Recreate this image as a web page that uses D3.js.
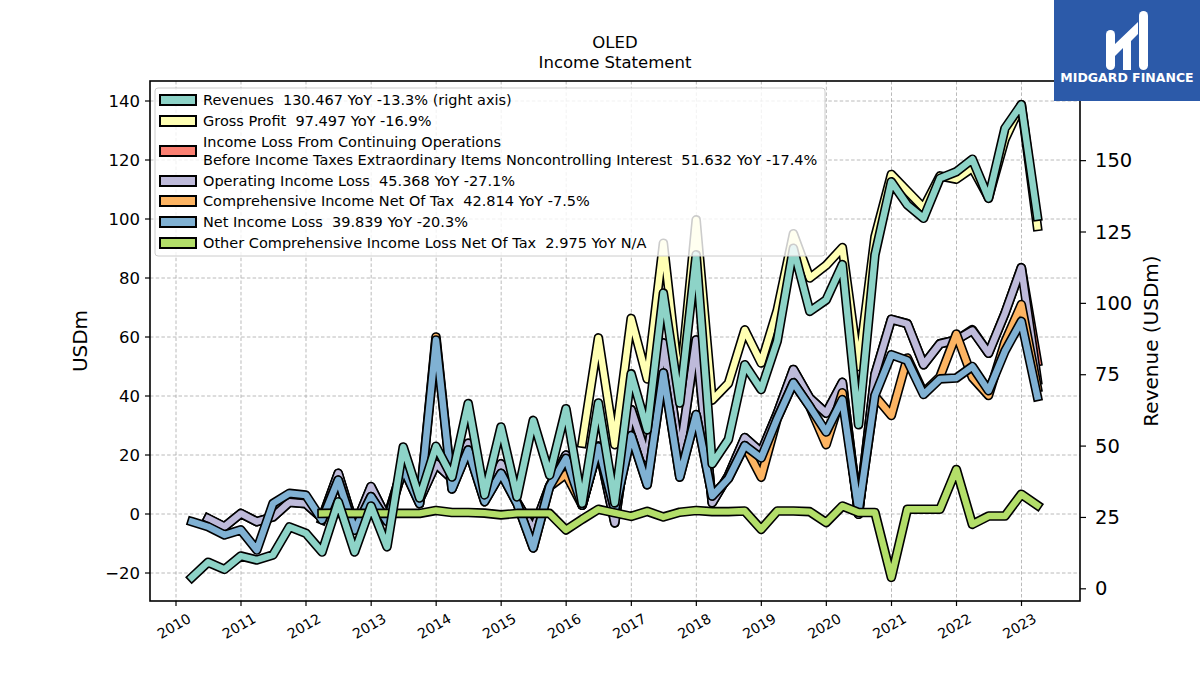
<!DOCTYPE html>
<html lang="en">
<head>
<meta charset="UTF-8">
<title>OLED Income Statement</title>
<style>
  body { margin: 0; background: #fff; }
  svg text { font-family: "DejaVu Sans", sans-serif; }
</style>
</head>
<body>
<script src="https://d3js.org/d3.v7.min.js"></script>
<div id="chart"></div>
<script>

// quarter ends
const periods = [
  "2010-03-31", "2010-06-30", "2010-09-30", "2010-12-31",
  "2011-03-31", "2011-06-30", "2011-09-30", "2011-12-31",
  "2012-03-31", "2012-06-30", "2012-09-30", "2012-12-31",
  "2013-03-31", "2013-06-30", "2013-09-30", "2013-12-31",
  "2014-03-31", "2014-06-30", "2014-09-30", "2014-12-31",
  "2015-03-31", "2015-06-30", "2015-09-30", "2015-12-31",
  "2016-03-31", "2016-06-30", "2016-09-30", "2016-12-31",
  "2017-03-31", "2017-06-30", "2017-09-30", "2017-12-31",
  "2018-03-31", "2018-06-30", "2018-09-30", "2018-12-31",
  "2019-03-31", "2019-06-30", "2019-09-30", "2019-12-31",
  "2020-03-31", "2020-06-30", "2020-09-30", "2020-12-31",
  "2021-03-31", "2021-06-30", "2021-09-30", "2021-12-31",
  "2022-03-31", "2022-06-30", "2022-09-30", "2022-12-31",
  "2023-03-31"
];

// right axis
const revenues = [4.0, 9.3, 6.8, 11.5, 10.1, 11.9, 21.7, 19.5, 12.9, 30.5, 12.9, 29.0, 14.7, 49.7, 31.8, 49.9,
  39.2, 64.9, 32.9, 56.7, 32.2, 59.0, 39.8, 63.1, 29.9, 65.1, 30.1, 75.3, 55.7, 103.6, 65.1, 117.0,
  43.8, 52.3, 78.5, 69.8, 86.7, 119.3, 97.2, 101.2, 113.6, 57.5, 117.0, 142.6, 134.5, 129.8, 143.8, 146.1,
  150.5, 136.8, 161.3, 169.6, 130.467];

// left axis
const grossProfit = [null, null, null, null, null, null, null, null, null, null, null, null, null, null, null, null,
  null, null, null, null, null, null, null, null, 24.0, 59.7, 23.5, 66.3, 45.8, 91.8, 42.6, 99.7,
  38.6, 44.3, 62.4, 51.2, 69.0, 95.0, 80.0, 84.3, 90.3, 50.0, 94.0, 115.1, 109.5, 103.8, 114.6, 113.5,
  117.3, 107.2, 127.0, 138.8, 97.497];

const incomeBeforeTax = [null, -1.5, -4.3, 0.2, -2.6, -1.0, 4.0, 3.5, -1.4, 13.8, -4.3, 9.3, -1.5, 16.5, 4.8, 17.0,
  12.0, 24.0, 5.5, 17.0, 4.0, -5.4, 9.5, 20.0, 3.0, 23.0, -3.0, 35.4, 19.0, 58.0, 20.0, 59.0,
  3.8, 13.0, 25.9, 21.0, 34.0, 49.0, 39.3, 34.2, 44.6, -0.1, 47.3, 66.0, 64.5, 50.6, 57.7, 59.0,
  62.5, 54.5, 68.0, 83.5, 51.632];

const operatingIncome = [null, -1.5, -4.3, 0.2, -2.6, -1.0, 4.0, 3.5, -1.4, 13.8, -4.3, 9.3, -1.5, 16.5, 4.8, 17.0,
  12.0, 24.0, 5.5, 17.0, 4.0, -5.4, 9.5, 20.0, 3.0, 23.0, -3.0, 35.4, 19.0, 58.0, 20.0, 59.0,
  3.8, 13.0, 25.9, 21.0, 34.0, 49.0, 39.3, 34.2, 44.6, -0.1, 47.3, 66.0, 64.5, 50.6, 57.7, 59.0,
  62.2, 54.5, 68.0, 83.5, 45.368];

const comprehensiveIncome = [null, null, null, null, null, null, null, null, -2.0, 11.5, -5.5, 5.9, -2.5, 15.5, 3.5, 60.0,
  8.5, 21.7, 4.2, 13.8, 3.6, -11.5, 9.3, 13.5, 3.0, 22.8, 1.5, 26.6, 9.9, 47.8, 12.5, 33.7,
  6.1, 12.0, 23.2, 12.5, 32.3, 44.5, 36.4, 23.5, 41.1, 1.0, 40.0, 33.4, 52.9, 41.1, 46.5, 61.0,
  46.3, 40.2, 58.3, 71.0, 42.814];

const netIncome = [-2.6, -4.3, -7.1, -5.4, -12.2, 3.6, 7.0, 6.4, -2.0, 11.5, -5.5, 5.9, -2.5, 15.5, 3.5, 59.0,
  8.5, 21.7, 4.2, 13.8, 3.6, -11.5, 9.3, 18.9, 3.0, 22.8, 1.5, 26.6, 9.9, 47.8, 12.5, 33.7,
  6.1, 12.0, 23.2, 19.0, 32.3, 44.5, 36.4, 27.8, 38.8, 1.0, 40.2, 54.0, 52.0, 40.5, 45.8, 46.1,
  50.0, 41.8, 55.2, 65.3, 39.839];

const otherComprehensive = [null, null, null, null, null, null, null, null, 0.2, 0.3, 0.2, 0.2, 0.2, 0.2, 0.2, 1.2,
  0.5, 0.5, 0.3, -0.3, 0.2, 0.2, 0.2, -5.4, -1.8, 1.6, 0.4, -0.8, 0.9, -1.0, 0.6, 1.2,
  0.8, 0.8, 1.0, -5.2, 1.0, 1.0, 0.8, -2.9, 2.7, 0.5, 0.5, -21.5, 1.6, 1.6, 1.6, 15.1,
  -3.5, -0.7, -0.7, 6.7, 2.975];

const yearTicks = ["2010", "2011", "2012", "2013", "2014", "2015", "2016", "2017", "2018", "2019", "2020", "2021", "2022", "2023"];
const leftTicks = [-20, 0, 20, 40, 60, 80, 100, 120, 140];
const rightTicks = [0, 25, 50, 75, 100, 125, 150];

const seriesNames = [
  "Revenues",
  "Gross Profit",
  "Income Loss From Continuing Operations\nBefore Income Taxes Extraordinary Items Noncontrolling Interest",
  "Operating Income Loss",
  "Comprehensive Income Net Of Tax",
  "Net Income Loss",
  "Other Comprehensive Income Loss Net Of Tax"
];
const seriesYoY = ["-13.3%", "-16.9%", "-17.4%", "-27.1%", "-7.5%", "-20.3%", "N/A"];
const seriesColors = ["#8dd3c7", "#ffffb3", "#fb8072", "#bebada", "#fdb462", "#80b1d3", "#b3de69"];

const width = 1200, height = 675;
const plot = { left: 150, right: 1080, top: 81, bottom: 601 };

const parse = d3.timeParse("%Y-%m-%d");
const dates = periods.map(parse);

const x = d3.scaleTime()
  .domain([new Date(2010, 0, 1), new Date(2023, 0, 1)])
  .range([176, 1021.5]);

const yL = d3.scaleLinear().domain([-29.49, 146.78]).range([plot.bottom, plot.top]);
const yR = d3.scaleLinear().domain([-4.27, 177.9]).range([plot.bottom, plot.top]);

const svg = d3.select("#chart").append("svg")
  .attr("width", width)
  .attr("height", height);

svg.append("rect").attr("width", width).attr("height", height).attr("fill", "#fff");

// grid
const grid = svg.append("g").attr("stroke", "#a8a8a8").attr("stroke-width", 0.8).attr("stroke-dasharray", "3.5,2.2");
grid.selectAll("line.v")
  .data(yearTicks)
  .join("line")
  .attr("x1", d => x(new Date(+d, 0, 1))).attr("x2", d => x(new Date(+d, 0, 1)))
  .attr("y1", plot.top).attr("y2", plot.bottom);
grid.selectAll("line.h")
  .data(leftTicks)
  .join("line")
  .attr("class", "h")
  .attr("x1", plot.left).attr("x2", plot.right)
  .attr("y1", d => yL(d)).attr("y2", d => yL(d));

// lines, black outline under the colour
function drawSeries(values, scale, color) {
  const line = d3.line()
    .defined(d => d != null)
    .x((d, i) => x(dates[i]))
    .y(d => scale(d));
  const g = svg.append("g")
    .attr("fill", "none")
    .attr("stroke-linejoin", "round")
    .attr("stroke-linecap", "square");
  g.append("path").attr("d", line(values)).attr("stroke", "#000").attr("stroke-width", 9.6);
  g.append("path").attr("d", line(values)).attr("stroke", color).attr("stroke-width", 6.4);
}

const leftSeries = [grossProfit, incomeBeforeTax, operatingIncome, comprehensiveIncome, netIncome, otherComprehensive];
leftSeries.forEach((s, i) => drawSeries(s, yL, seriesColors[i + 1]));
drawSeries(revenues, yR, seriesColors[0]);

// frame
svg.append("rect")
  .attr("x", plot.left).attr("y", plot.top)
  .attr("width", plot.right - plot.left).attr("height", plot.bottom - plot.top)
  .attr("fill", "none").attr("stroke", "#000").attr("stroke-width", 1.6);

// left axis
const axL = svg.append("g");
axL.selectAll("line").data(leftTicks).join("line")
  .attr("x1", plot.left - 5).attr("x2", plot.left)
  .attr("y1", d => yL(d)).attr("y2", d => yL(d))
  .attr("stroke", "#000").attr("stroke-width", 1.2);
axL.selectAll("text").data(leftTicks).join("text")
  .attr("x", plot.left - 10).attr("y", d => yL(d))
  .attr("text-anchor", "end").attr("dominant-baseline", "central")
  .attr("font-size", 16.5)
  .text(d => d < 0 ? "\u2212" + Math.abs(d) : d);

svg.append("text")
  .attr("transform", `translate(80,${(plot.top + plot.bottom) / 2}) rotate(-90)`)
  .attr("text-anchor", "middle").attr("dominant-baseline", "central")
  .attr("font-size", 20)
  .text("USDm");

// right axis
const axR = svg.append("g");
axR.selectAll("line").data(rightTicks).join("line")
  .attr("x1", plot.right).attr("x2", plot.right + 6)
  .attr("y1", d => yR(d)).attr("y2", d => yR(d))
  .attr("stroke", "#000").attr("stroke-width", 1.2);
axR.selectAll("text").data(rightTicks).join("text")
  .attr("x", plot.right + 15).attr("y", d => yR(d))
  .attr("dominant-baseline", "central")
  .attr("font-size", 19.5)
  .text(d => d);

svg.append("text")
  .attr("transform", `translate(1151,${(plot.top + plot.bottom) / 2}) rotate(-90)`)
  .attr("text-anchor", "middle").attr("dominant-baseline", "central")
  .attr("font-size", 20)
  .text("Revenue (USDm)");

// x axis
const axX = svg.append("g");
axX.selectAll("line").data(yearTicks).join("line")
  .attr("x1", d => x(new Date(+d, 0, 1))).attr("x2", d => x(new Date(+d, 0, 1)))
  .attr("y1", plot.bottom).attr("y2", plot.bottom + 5)
  .attr("stroke", "#000").attr("stroke-width", 1.2);
axX.selectAll("text").data(yearTicks).join("text")
  .attr("transform", d => `translate(${x(new Date(+d, 0, 1)) - 2},${plot.bottom + 25}) rotate(-30)`)
  .attr("text-anchor", "middle").attr("dominant-baseline", "central")
  .attr("font-size", 14)
  .text(d => d);

// title
svg.append("text").attr("x", 615).attr("y", 42)
  .attr("text-anchor", "middle").attr("dominant-baseline", "central")
  .attr("font-size", 16.5).text("OLED");
svg.append("text").attr("x", 615).attr("y", 62)
  .attr("text-anchor", "middle").attr("dominant-baseline", "central")
  .attr("font-size", 16.5).text("Income Statement");

// legend
const allSeries = [revenues, grossProfit, incomeBeforeTax, operatingIncome, comprehensiveIncome, netIncome, otherComprehensive];
const legendRows = [100, 121, 151, 181, 201, 222, 243];
const legend = svg.append("g");
legend.append("rect")
  .attr("x", 155).attr("y", 88).attr("width", 670).attr("height", 168).attr("rx", 3)
  .attr("fill", "#fff").attr("fill-opacity", 0.8)
  .attr("stroke", "#cccccc").attr("stroke-width", 1);

seriesNames.forEach((name, i) => {
  const s = allSeries[i];
  const last = s[s.length - 1];
  const lines = name.split("\n");
  lines[lines.length - 1] += `\u00a0\u00a0${last} YoY ${seriesYoY[i]}` + (i === 0 ? " (right axis)" : "");
  const cy = legendRows[i];
  legend.append("rect")
    .attr("x", 160).attr("y", cy - 5).attr("width", 36).attr("height", 10)
    .attr("fill", seriesColors[i]).attr("stroke", "#000").attr("stroke-width", 2);
  const t = legend.append("text").attr("font-size", 14.5);
  lines.forEach((ln, j) => {
    t.append("tspan")
      .attr("x", 203)
      .attr("y", cy + (j - (lines.length - 1) / 2) * 17.5)
      .attr("dominant-baseline", "central")
      .text(ln);
  });
});

// logo
const logo = svg.append("g");
logo.append("rect").attr("x", 1054).attr("y", 0).attr("width", 146).attr("height", 101).attr("fill", "#2c5aa9");
logo.append("rect").attr("x", 1106).attr("y", 30).attr("width", 9).attr("height", 40).attr("rx", 4.5).attr("fill", "#fff");
logo.append("rect").attr("x", 1139).attr("y", 11).attr("width", 9).attr("height", 59).attr("rx", 4.5).attr("fill", "#fff");
logo.append("path").attr("d", "M1115,44 L1138,22 L1138,34 L1131,41 L1131,70 L1123,70 L1123,48 L1115,56 Z").attr("fill", "#fff");
logo.append("text").attr("x", 1127).attr("y", 77)
  .attr("text-anchor", "middle").attr("dominant-baseline", "central")
  .attr("font-size", 12.5).attr("font-weight", "bold").attr("fill", "#fff")
  .text("MIDGARD FINANCE");

</script>
</body>
</html>
